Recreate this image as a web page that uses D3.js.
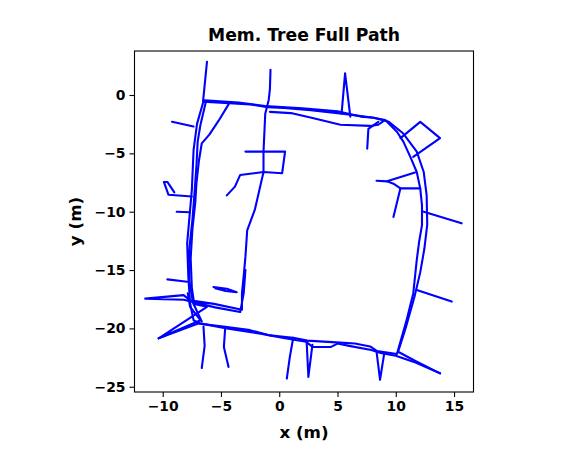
<!DOCTYPE html>
<html>
<head>
<meta charset="utf-8">
<script src="https://cdn.jsdelivr.net/npm/d3@7"></script>
<style>
	body { margin: 0; background: #fff; }
	text { font-family: "DejaVu Sans", sans-serif; font-weight: bold; }
</style>
</head>
<body>
<svg id="chart" width="574" height="473"></svg>
<script>
// path pieces, in metres [x, y]
var outerPass1 = [[-6.2,2.85],[-6.54,-0.57],[-4.3,-0.7],[-2.5,-0.8],[-1.0,-1.05],[0.4,-1.1],[2.7,-1.3],[5.4,-1.6],[8.1,-1.95],[9.1,-2.15],[10.1,-3.15],[10.65,-4.0],[11.25,-5.3],[11.8,-6.6],[12.1,-8.0],[12.25,-9.45],[12.25,-11.15],[12.0,-12.6],[11.8,-14.15],[11.5,-17.0],[10.9,-19.4],[10.1,-22.2],[8.4,-21.95],[7.8,-21.55],[6.5,-21.3],[4.9,-21.2],[2.4,-21.05],[1.2,-20.8],[-0.8,-20.6],[-2.5,-20.15],[-4.8,-19.85],[-6.8,-19.6],[-7.35,-19.3],[-7.65,-17.85],[-7.8,-15.6],[-7.9,-12.7],[-7.65,-9.85],[-7.5,-8.15],[-7.35,-4.7],[-7.05,-2.45],[-6.55,-0.7]];

var outerPass2 = [[-6.4,-0.45],[-3.5,-0.65],[-1.2,-0.95],[2.0,-1.15],[5.0,-1.4],[7.0,-1.85],[8.1,-1.95],[9.4,-2.3],[10.65,-3.3],[11.8,-4.85],[12.4,-6.6],[12.65,-8.6],[12.7,-11.1],[12.45,-13.2],[12.1,-15.2],[11.6,-17.3],[10.9,-19.8],[10.2,-22.0],[11.6,-22.75],[13.8,-23.85]];

var bottomPass = [[13.8,-23.85],[11.5,-22.85],[10.0,-22.35],[8.7,-22.1],[7.9,-21.85],[6.0,-21.5],[5.0,-21.3],[4.4,-21.6],[2.9,-21.6],[2.3,-21.15],[0.5,-20.85],[-1.6,-20.45],[-4.5,-20.0],[-6.9,-19.55],[-10.35,-20.85]];

var topPass = [[-0.8,-1.45],[1.0,-1.55],[2.95,-2.0],[5.25,-2.55],[7.8,-2.65],[8.5,-2.55],[9.0,-2.2]];

var innerPass = [[-0.75,2.15],[-0.8,0.5],[-0.9,-0.4],[-1.2,-1.6],[-1.35,-4.85],[-1.35,-6.6],[-1.9,-9.0],[-2.1,-9.85],[-2.75,-11.6],[-2.9,-13.85],[-3.05,-15.5],[-3.2,-17.0],[-3.2,-18.4],[-5.6,-17.9],[-7.65,-17.6],[-8.2,-17.15],[-11.5,-17.45],[-8.2,-17.55],[-5.5,-18.2],[-3.35,-18.6],[-3.05,-17.0],[-2.9,-15.0]];

var leftPass1 = [[-4.35,-0.8],[-5.2,-2.2],[-6.0,-3.4],[-6.65,-4.15],[-6.9,-5.7],[-7.1,-7.5],[-7.2,-9.15],[-7.45,-11.5],[-7.6,-14.0],[-7.5,-16.5],[-7.3,-17.9],[-6.2,-18.15],[-10.35,-20.85],[-6.75,-19.3],[-7.65,-18.15],[-7.85,-17.0]];

var leftPass2 = [[-6.3,-0.6],[-6.75,-2.5],[-7.0,-4.0],[-7.1,-6.0],[-7.3,-8.8],[-7.45,-10.7],[-7.75,-13.5],[-7.7,-16.0],[-7.4,-17.8],[-6.65,-19.4]];

var spurs = [
	[[-9.2,-2.3],[-7.35,-2.7]],
	[[-7.5,-8.7],[-9.5,-8.55],[-9.9,-7.45],[-9.6,-7.45],[-9.0,-8.35]],
	[[-8.8,-10.0],[-7.65,-10.05]],
	[[-9.6,-15.8],[-7.9,-16.0]],
	[[-5.65,-16.45],[-4.5,-16.6],[-3.65,-16.9],[-4.6,-16.8],[-5.5,-16.55]],
	[[-2.9,-4.85],[0.5,-4.85],[0.25,-6.7],[-1.35,-6.6],[-3.35,-6.85],[-3.8,-7.85],[-4.5,-8.6]],
	[[5.35,-1.6],[5.65,1.85],[6.1,-1.85]],
	[[8.5,-2.3],[7.65,-2.9],[7.55,-4.6]],
	[[10.4,-3.7],[12.1,-2.3],[13.8,-3.7],[11.5,-5.3]],
	[[8.35,-7.35],[9.25,-7.4],[11.65,-6.65]],
	[[9.25,-7.4],[9.8,-7.6],[10.4,-8.0],[12.1,-8.0]],
	[[10.4,-8.0],[9.8,-10.45]],
	[[12.4,-10.0],[15.65,-11.0]],
	[[11.8,-16.7],[14.8,-17.7]],
	[[1.2,-20.8],[0.9,-22.5],[0.65,-24.3]],
	[[2.35,-21.1],[2.5,-24.15],[2.85,-21.4]],
	[[8.35,-22.0],[8.65,-24.4],[9.0,-22.2]],
	[[-6.5,-19.85],[-6.4,-21.5],[-6.65,-23.4]],
	[[-4.65,-20.1],[-4.75,-21.6],[-4.35,-23.3]]
];

var xTicks = [-10, -5, 0, 5, 10, 15],
	yTicks = [0, -5, -10, -15, -20, -25];

var xDomain = [-12.42, 16.67],
	yDomain = [-25.45, 3.77];

function start(){
	var svg = d3.select("#chart"),
		left = 134.5, right = 473.5, top = 51, bottom = 392;

	var x = d3.scaleLinear().domain(xDomain).range([left, right]),
		y = d3.scaleLinear().domain(yDomain).range([bottom, top]);

	var line = d3.line()
		.x(function(d){ return x(d[0]); })
		.y(function(d){ return y(d[1]); });

	var paths = [outerPass1, outerPass2, bottomPass, topPass, innerPass, leftPass1, leftPass2].concat(spurs);

	svg.append("defs").append("clipPath").attr("id", "clip")
		.append("rect").attr("x", left).attr("y", top).attr("width", right - left).attr("height", bottom - top);

	svg.append("g").attr("clip-path", "url(#clip)")
		.selectAll("path").data(paths).enter().append("path")
		.attr("d", line)
		.attr("fill", "none")
		.attr("stroke", "#0000ff")
		.attr("stroke-width", 2.1)
		.attr("stroke-linejoin", "round")
		.attr("stroke-linecap", "round");

	var fmt = function(d){ return d < 0 ? "\u2212" + Math.abs(d) : d; };

	var xAxis = svg.append("g").attr("transform", "translate(0," + bottom + ")")
		.call(d3.axisBottom(x).tickValues(xTicks).tickFormat(fmt).tickSize(5).tickPadding(4));
	var yAxis = svg.append("g").attr("transform", "translate(" + left + ",0)")
		.call(d3.axisLeft(y).tickValues(yTicks).tickFormat(fmt).tickSize(5).tickPadding(4));

	[xAxis, yAxis].forEach(function(g){
		g.select(".domain").remove();
		g.selectAll("line").attr("stroke", "#000").attr("stroke-width", 1.1);
		g.selectAll("text").attr("fill", "#000").style("font-size", "13.9px").style("font-family", "DejaVu Sans").style("font-weight", "bold");
	});

	svg.append("rect")
		.attr("x", left).attr("y", top)
		.attr("width", right - left).attr("height", bottom - top)
		.attr("fill", "none").attr("stroke", "#000").attr("stroke-width", 1.1);

	svg.append("text")
		.attr("x", (left + right) / 2).attr("y", 41)
		.attr("text-anchor", "middle")
		.style("font-size", "17.2px")
		.text("Mem. Tree Full Path");

	svg.append("text")
		.attr("x", (left + right) / 2).attr("y", 438)
		.attr("text-anchor", "middle")
		.style("font-size", "16.7px")
		.text("x (m)");

	svg.append("text")
		.attr("transform", "translate(81," + ((top + bottom) / 2) + ") rotate(-90)")
		.attr("text-anchor", "middle")
		.style("font-size", "16.7px")
		.text("y (m)");
}

start();
</script>
</body>
</html>
